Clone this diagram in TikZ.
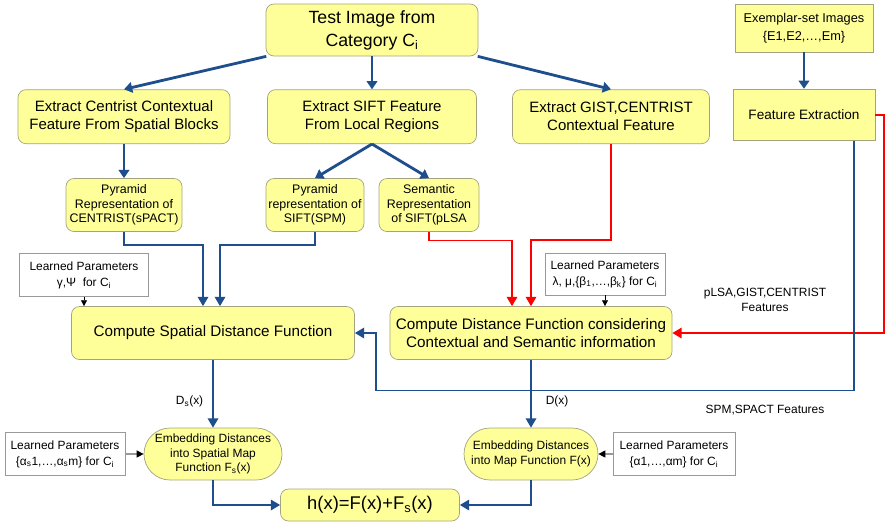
\documentclass[tikz,border=0pt]{standalone}
\usepackage{fontspec}
\setmainfont{Liberation Sans}
\usetikzlibrary{arrows.meta}
\definecolor{boxfill}{HTML}{FFFF99}
\definecolor{boxline}{HTML}{A3A37F}
\definecolor{flowblue}{HTML}{1F4E8C}
\definecolor{flowred}{HTML}{FF0000}
\definecolor{paramline}{HTML}{999999}
\tikzstyle{stage} = [rectangle, rounded corners=0.24cm, align=center, draw=boxline, fill=boxfill, line width=0.6pt, inner sep=1pt]
\tikzstyle{bigstage} = [stage, font=\fontsize{12.8}{15.4}\selectfont, minimum height=1.62cm]
\tikzstyle{smallstage} = [stage, font=\fontsize{10.6}{12.4}\selectfont, minimum height=1.59cm]
\tikzstyle{plainstage} = [rectangle, align=center, draw=boxline, fill=boxfill, line width=0.6pt]
\tikzstyle{roundstage} = [rectangle, rounded corners=0.78cm, align=center, draw=boxline, fill=boxfill, line width=0.6pt, minimum height=1.56cm, font=\fontsize{10.2}{12.4}\selectfont]
\tikzstyle{params} = [rectangle, align=center, draw=paramline, fill=white, line width=0.6pt, minimum height=1.29cm, font=\fontsize{10.2}{13.7}\selectfont, inner sep=1pt]
\tikzstyle{lbl} = [align=center, font=\fontsize{10.2}{13}\selectfont]
\tikzstyle{mainarrow} = [draw=flowblue, line width=2.4pt, -{Triangle[length=7pt,width=9pt]}]
\tikzstyle{flowarrow} = [draw=flowblue, line width=1.5pt, -{Triangle[length=8pt,width=9pt]}]
\tikzstyle{redarrow} = [draw=flowred, line width=1.5pt, -{Triangle[length=8pt,width=9pt]}]
\tikzstyle{paramarrow} = [draw=black, line width=0.5pt, -{Triangle[length=5pt,width=5pt]}]
\tikzstyle{sidearrow} = [draw=paramline, line width=1pt, -{Triangle[length=6pt,width=6pt,color=black]}]

\begin{document}
\begin{tikzpicture}[node distance=2.6cm]
  \useasboundingbox (0,0) rectangle (26.67,-15.75);

  \node (test) [stage, minimum width=6.36cm, minimum height=1.56cm, font=\fontsize{15.1}{19.6}\selectfont] at (11.16,-0.9) {Test Image from\\Category C\textsubscript{i}};
  \node (sift) [bigstage, below of=test, minimum width=6.27cm] {Extract SIFT Feature\\From Local Regions};
  \node (cent) [bigstage, below of=test, xshift=-7.44cm, minimum width=6.36cm] {Extract Centrist Contextual\\Feature From Spatial Blocks};
  \node (gist) [bigstage, below of=test, xshift=7.17cm, minimum width=5.91cm] {Extract GIST,CENTRIST\\Contextual Feature};
  \node (exemplar) [plainstage, right of=test, xshift=10.36cm, yshift=0.06cm, minimum width=4.14cm, minimum height=1.44cm, font=\fontsize{10.9}{15}\selectfont] {Exemplar-set Images\\\{E1,E2,…,Em\}};
  \node (featx) [plainstage, below of=exemplar, minimum width=4.26cm, minimum height=1.53cm, font=\fontsize{11.6}{14}\selectfont] {Feature Extraction};

  \node (pyrC) [smallstage, below of=cent, yshift=-0.05cm, minimum width=3.48cm] {Pyramid\\Representation of\\CENTRIST(sPACT)};
  \node (pyrS) [smallstage, below of=sift, xshift=-1.71cm, yshift=-0.05cm, minimum width=2.94cm] {Pyramid\\representation of\\SIFT(SPM)};
  \node (sem) [smallstage, below of=sift, xshift=1.71cm, yshift=-0.05cm, minimum width=3cm] {Semantic\\Representation\\of SIFT(pLSA};

  \node (csd) [stage, below of=pyrC, xshift=2.67cm, yshift=-1.24cm, minimum width=8.49cm, minimum height=1.59cm, font=\fontsize{13}{16}\selectfont] {Compute Spatial Distance Function};
  \node (cdf) [stage, right of=csd, xshift=6.94cm, minimum width=8.46cm, minimum height=1.59cm, font=\fontsize{13}{16}\selectfont] {Compute Distance Function considering\\Contextual and Semantic information};
  \node (lp1) [params, above of=csd, xshift=-3.87cm, yshift=-0.86cm, minimum width=3.87cm] {Learned Parameters\\γ,Ψ~~for C\textsubscript{i}};
  \node (lp2) [params, above of=cdf, xshift=2.22cm, yshift=-0.83cm, minimum width=3.6cm, minimum height=1.26cm] {Learned Parameters\\λ, μ,\{β\textsubscript{1},…,β\textsubscript{k}\} for C\textsubscript{i}};

  \node (emb1) [roundstage, below of=csd, yshift=-1.03cm, minimum width=4.14cm] {Embedding Distances\\into Spatial Map\\Function F\textsubscript{s}(x)};
  \node (emb2) [roundstage, below of=cdf, yshift=-1.03cm, minimum width=4.02cm] {Embedding Distances\\into Map Function F(x)};
  \node (lp3) [params, left of=emb1, xshift=-1.84cm, minimum width=3.6cm] {Learned Parameters\\\{α\textsubscript{s}1,…,α\textsubscript{s}m\} for C\textsubscript{i}};
  \node (lp4) [params, right of=emb2, xshift=1.69cm, minimum width=3.66cm] {Learned Parameters\\\{α1,…,αm\} for C\textsubscript{i}};
  \node (h) [stage, below of=emb1, xshift=4.71cm, yshift=1.07cm, minimum width=5.37cm, minimum height=0.96cm, font=\fontsize{15.7}{18}\selectfont] {h(x)=F(x)+F\textsubscript{s}(x)};

  \node (lblA) [lbl] at (22.95,-9.0) {pLSA,GIST,CENTRIST\\Features};
  \node (lblB) [lbl] at (22.95,-12.3) {SPM,SPACT Features};

  \draw [mainarrow] (test.194) -- (cent.north);
  \draw [mainarrow] (test.south) -- (sift.north);
  \draw [mainarrow] (test.-14) -- (gist.north);
  \draw [mainarrow] (exemplar.south) -- (featx.north);
  \draw [mainarrow] (cent.south) -- (pyrC.north);
  \draw [mainarrow] (sift.south) -- (pyrS.north);
  \draw [mainarrow] (sift.south) -- (sem.north);

  \draw [flowarrow] (pyrC.south) -- ++(0,-0.4) -| ([xshift=-0.3cm]csd.north);
  \draw [flowarrow] (pyrS.south) -- ++(0,-0.4) -| ([xshift=0.21cm]csd.north);
  \draw [redarrow] (sem.south) -- ++(0,-0.26) -| ([xshift=-0.57cm]cdf.north);
  \draw [redarrow] (gist.south) -- ++(0,-2.89) -| (cdf.north);
  \draw [redarrow] (featx.east) -- ++(0.27,0) |- (cdf.east);
  \draw [flowarrow] ([xshift=1.5cm]featx.south) -- ++(0,-7.5) -- ++(-14.34,0) |- (csd.east);

  \draw [paramarrow] (lp1.south) -- (lp1.south |- csd.north);
  \draw [paramarrow] (lp2.south) -- (lp2.south |- cdf.north);

  \draw [flowarrow] (csd.south) -- node[lbl, left, pos=0.62, xshift=-0.15cm] {D\textsubscript{s}(x)} (emb1.north);
  \draw [flowarrow] (cdf.south) -- node[lbl, right, pos=0.62, xshift=0.3cm] {D(x)} (emb2.north);
  \draw [sidearrow] (lp3.east) -- (emb1.west);
  \draw [sidearrow] (lp4.west) -- (emb2.east);
  \draw [flowarrow] (emb1.south) |- (h.west);
  \draw [flowarrow] (emb2.south) |- (h.east);
\end{tikzpicture}
\end{document}
